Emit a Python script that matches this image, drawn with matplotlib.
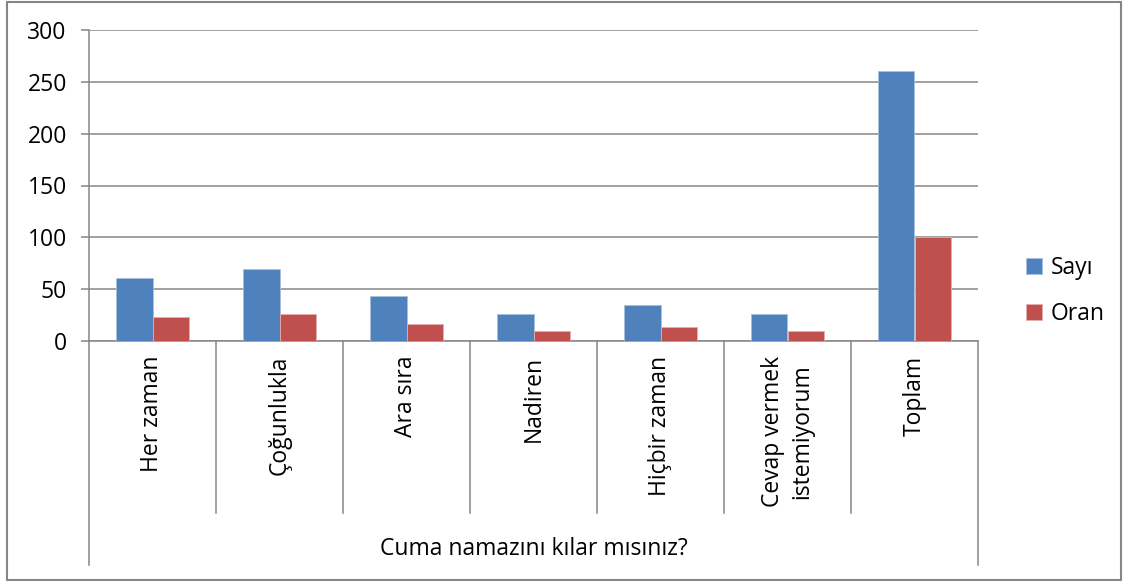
import matplotlib
matplotlib.use("Agg")
import matplotlib.pyplot as plt
import matplotlib.transforms as mtransforms
from matplotlib.patches import Rectangle
import numpy as np

plt.rcParams['font.family'] = ['Open Sans', 'DejaVu Sans']

categories = ["Her zaman", "Çoğunlukla", "Ara sıra", "Nadiren", "Hiçbir zaman",
              "Cevap vermek\nistemiyorum", "Toplam"]
sayi = [61, 69, 43, 26, 35, 26, 260]
oran = [23.5, 26.5, 16.5, 10, 13.5, 10, 100]
yticks = [0, 50, 100, 150, 200, 250, 300]
series_names = ["Sayı", "Oran"]
axis_title = "Cuma namazını kılar mısınız?"

W, H = 1123, 581
fig = plt.figure(figsize=(W / 100, H / 100), dpi=100)
GREY = "#868686"
FS = 16.5

# outer chart border
fig.patches.append(Rectangle((7 / W, 1 / H), (1121 - 7) / W, (579 - 1) / H,
                             transform=fig.transFigure, fill=False,
                             edgecolor=GREY, linewidth=1.5))

ax = fig.add_axes([89 / W, (H - 341) / H, (978 - 89) / W, (341 - 30) / H])
x = np.arange(len(categories))
bw = 1 / 3.5
ax.bar(x - bw / 2, sayi, bw, color="#4F81BD", edgecolor="#A7C0DE", linewidth=0.6,
       label=series_names[0], zorder=3)
ax.bar(x + bw / 2, oran, bw, color="#C0504D", edgecolor="#E3AFAE", linewidth=0.6,
       label=series_names[1], zorder=3)

ax.set_xlim(-0.5, len(categories) - 0.5)
ax.set_ylim(0, 300)
ax.set_yticks(yticks)
ax.set_yticklabels([str(v) for v in yticks], fontsize=FS)
ax.tick_params(axis="y", length=6, width=1.1, color=GREY, pad=10)
ax.grid(axis="y", color=GREY, linewidth=1.1, zorder=0)
ax.set_axisbelow(True)

ax.set_xticks(x)
ax.set_xticklabels(categories, rotation=90, fontsize=FS, va="top", ha="center",
                   linespacing=1.25)
ax.tick_params(axis="x", length=0, pad=10.5)

for s in ["top", "right"]:
    ax.spines[s].set_visible(False)
ax.spines["left"].set_color(GREY)
ax.spines["left"].set_linewidth(1.1)
ax.spines["bottom"].set_color(GREY)
ax.spines["bottom"].set_linewidth(1.1)

# category separators below the axis
trans = mtransforms.blended_transform_factory(ax.transData, fig.transFigure)
edges = np.arange(len(categories) + 1) - 0.5
for i, e in enumerate(edges):
    y_end = 565 if i in (0, len(edges) - 1) else 513
    ax.plot([e, e], [(H - 341) / H, (H - y_end) / H], transform=trans,
            color=GREY, linewidth=1.1, clip_on=False)

fig.text((89 + 978) / 2 / W, (H - 549) / H, axis_title, ha="center", va="center",
         fontsize=FS)

leg = fig.legend(loc="center left", bbox_to_anchor=(1005 / W, (H - 291) / H),
                 frameon=False, fontsize=FS, handlelength=0.7, handleheight=0.7,
                 handletextpad=0.4, labelspacing=1.0)

fig.savefig("out.png", dpi=100)
